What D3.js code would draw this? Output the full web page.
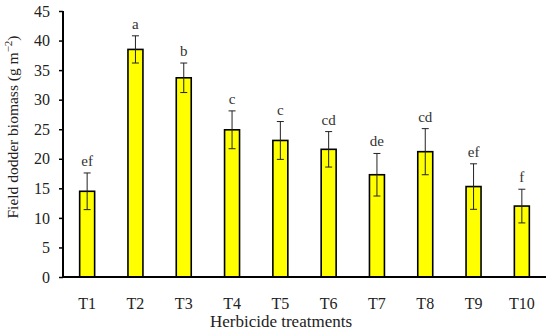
<!DOCTYPE html>
<html><head><meta charset="utf-8">
<script src="https://cdn.jsdelivr.net/npm/d3@7"></script>
<style>body{margin:0;background:#fff}svg{display:block}text{font-family:"Palatino Linotype","Book Antiqua","Liberation Serif","DejaVu Serif",serif}</style>
</head><body>
<script>
const categories = ["T1","T2","T3","T4","T5","T6","T7","T8","T9","T10"];
const values = [14.5,38.5,33.7,24.9,23.1,21.6,17.3,21.2,15.3,12.0];
const errors = [3.1,2.3,2.5,3.2,3.2,3.0,3.6,3.9,3.85,2.85];
const letters = ["ef","a","b","c","c","cd","de","cd","ef","f"];
const yTicks = [0,5,10,15,20,25,30,35,40,45];

const W=550,H=331, m={l:63,r:4,t:11,b:54};
const FF='"Palatino Linotype","Book Antiqua","Liberation Serif",serif';
const svg=d3.select("body").append("svg").attr("width",W).attr("height",H);
const x=d3.scaleBand().domain(categories).range([m.l,W-m.r]).paddingInner(0.69).paddingOuter(0.345);
const y=d3.scaleLinear().domain([0,45]).range([H-m.b,m.t]);

const g=svg.append("g");
g.selectAll("rect.bar").data(values).join("rect").attr("class","bar")
 .attr("x",(d,i)=>x(categories[i])).attr("width",x.bandwidth())
 .attr("y",d=>y(d)).attr("height",d=>y(0)-y(d))
 .attr("fill","#ffff00").attr("stroke","#000").attr("stroke-width",1.6);

const eb=g.selectAll("g.err").data(values).join("g").attr("class","err")
 .attr("transform",(d,i)=>`translate(${x(categories[i])+x.bandwidth()/2},0)`);
eb.append("line").attr("y1",(d,i)=>y(d+errors[i])).attr("y2",(d,i)=>y(d-errors[i])).attr("stroke","#222").attr("stroke-width",1);
eb.append("line").attr("x1",-3.5).attr("x2",3.5).attr("y1",(d,i)=>y(d+errors[i])).attr("y2",(d,i)=>y(d+errors[i])).attr("stroke","#222").attr("stroke-width",1);
eb.append("line").attr("x1",-3.5).attr("x2",3.5).attr("y1",(d,i)=>y(d-errors[i])).attr("y2",(d,i)=>y(d-errors[i])).attr("stroke","#222").attr("stroke-width",1);
eb.append("text").attr("y",(d,i)=>y(d+errors[i])-7).attr("text-anchor","middle")
 .attr("font-size",15).attr("fill","#333").text((d,i)=>letters[i]);

const ya=svg.append("g").attr("transform",`translate(${m.l},0)`)
 .call(d3.axisLeft(y).tickValues(yTicks).tickSize(4).tickPadding(9));
ya.select(".domain").attr("stroke","#000").attr("stroke-width",2).attr("d",`M0,${y(45)}V${y(0)}`);
ya.selectAll(".tick line").attr("stroke","#000").attr("stroke-width",1.5);
ya.selectAll(".tick text").attr("font-size",16).attr("fill","#222").style("font-family",FF);

const xa=svg.append("g").attr("transform",`translate(0,${y(0)})`)
 .call(d3.axisBottom(x).tickSize(0).tickPadding(21));
xa.select(".domain").attr("stroke","#000").attr("stroke-width",2).attr("d",`M${m.l},0H${W-m.r}`);
xa.selectAll(".tick text").attr("font-size",16).attr("fill","#222").style("font-family",FF);

svg.append("text").attr("x",281).attr("y",327).attr("text-anchor","middle")
 .attr("font-size",17).attr("fill","#222").text("Herbicide treatments");
svg.append("text").attr("transform",`translate(18,127) rotate(-90)`).attr("text-anchor","middle")
 .attr("font-size",15.5).attr("fill","#222")
 .html('Field dodder biomass (g m<tspan dy="-6" font-size="11">−2</tspan><tspan dy="6">)</tspan>');
</script>
</body></html>
